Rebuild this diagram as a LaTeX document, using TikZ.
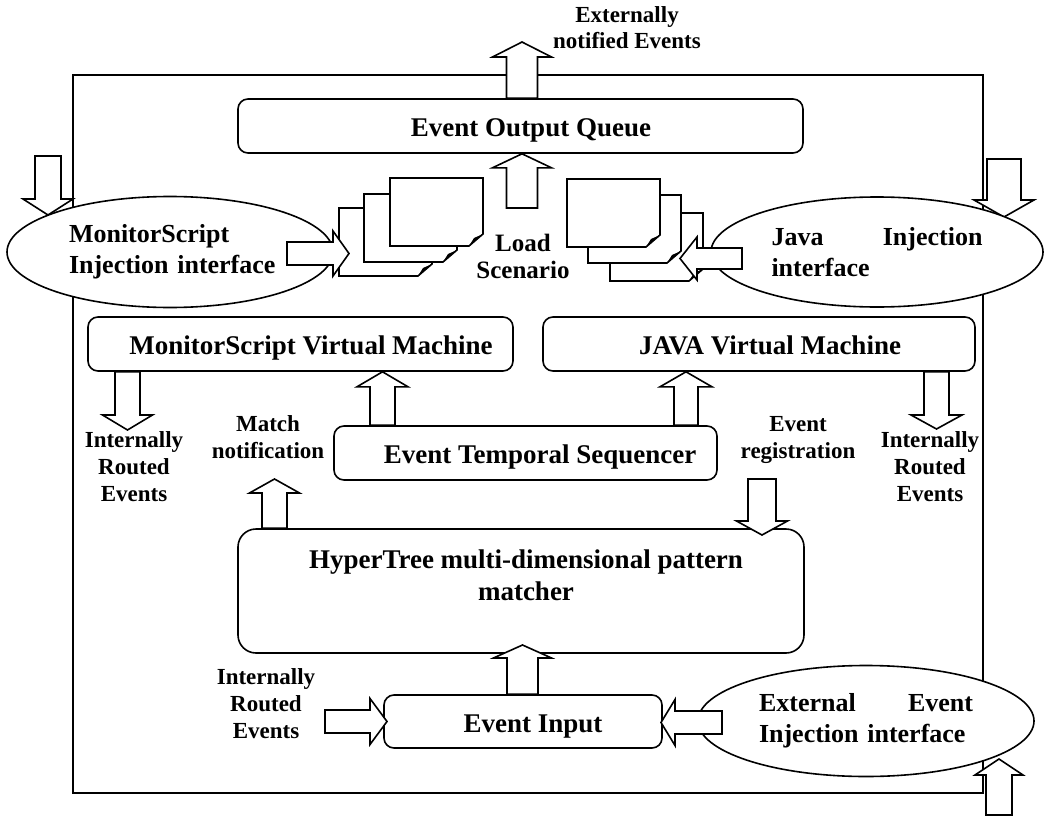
\documentclass[tikz,border=0pt]{standalone}
\usepackage{fontspec}
\setmainfont{Liberation Serif}
\usetikzlibrary{calc,shapes.geometric}

% block arrow: tail point, tip point, shaft half width, head half width, head length
\newcommand\blockarrow[5]{%
  \path ($(#2)!#5!(#1)$) coordinate (ba-h);
  \draw[blk] ($(#1)!#3!90:(#2)$) -- ($(ba-h)!#3!90:(#2)$) -- ($(ba-h)!#4!90:(#2)$)
    -- (#2) -- ($(ba-h)!#4!-90:(#2)$) -- ($(ba-h)!#3!-90:(#2)$) -- ($(#1)!#3!-90:(#2)$) -- cycle;}

% a sheet of paper with a curled bottom-right corner
\newcommand\docpage[2]{%
  \draw[page] (#1,#2) -- ++(93,0) -- ++(0,56) -- ++(-14,12) -- ++(-79,0) -- cycle;
  \fill ({#1+93},{#2+56}) -- ({#1+79},{#2+68}) -- ({#1+84},{#2+60}) -- cycle;}

\hyphenpenalty=10000
\hbadness=10000
\hfuzz=50pt
\begin{document}
\begin{tikzpicture}[x=1pt,y=-1pt,
  ln/.style={line width=1.6pt, draw=black},
  box/.style={ln, fill=white, rounded corners=10pt, inner sep=0pt},
  blob/.style={ln, fill=white, ellipse, inner sep=0pt},
  blk/.style={ln, fill=white, line join=miter},
  page/.style={ln, fill=white, line join=miter},
  big/.style={font=\bfseries\fontsize{27pt}{32pt}\selectfont, inner sep=0pt, anchor=base},
  mid/.style={font=\bfseries\fontsize{26pt}{31pt}\selectfont},
  small/.style={font=\bfseries\fontsize{23pt}{27pt}\selectfont, inner sep=0pt, align=center, anchor=base},
]
\useasboundingbox (0,0) rectangle (1055,816);

% outer system frame
\node[ln, minimum width=910pt, minimum height=718pt, inner sep=0pt] (frame) at (528,434) {};

% processing blocks
\node[box, minimum width=565pt, minimum height=54pt] (eoq) at (520.5,126) {};
\node[box, minimum width=425pt, minimum height=54pt] (msvm) at (300.5,344) {};
\node[box, minimum width=432pt, minimum height=54pt] (jvm) at (759,344) {};
\node[box, minimum width=383pt, minimum height=54pt] (ets) at (525.5,453) {};
\node[box, rounded corners=18pt, minimum width=566pt, minimum height=124pt] (ht) at (521,591) {};
\node[box, minimum width=278pt, minimum height=53pt] (ei) at (523,721.5) {};

% incoming arrows that pass behind the interfaces
\coordinate (tlin) at (48,156);   \coordinate (tltip) at (48,215);
\coordinate (trin) at (1004,159); \coordinate (trtip) at (1004,217);
\coordinate (brin) at (999,815);  \coordinate (brtip) at (999,759);
\blockarrow{tlin}{tltip}{13pt}{25pt}{16pt}
\blockarrow{trin}{trtip}{17pt}{30pt}{17pt}
\blockarrow{brin}{brtip}{13pt}{24pt}{16pt}

% injection interfaces
\node[blob, mid, minimum width=326pt, minimum height=111pt, text width=202pt, align=left]
  (msi) at (170,252) {MonitorScript\\Injection~interface};
\node[blob, mid, minimum width=332pt, minimum height=110pt, text width=211pt, align=left]
  (jii) at (877,252) {Java\hfill Injection\\interface};
\node[blob, mid, minimum width=336pt, minimum height=111pt, text width=214pt, align=left]
  (eei) at (866,721) {External\hfill Event\\Injection~interface};

% scenario documents
\docpage{339}{208}
\docpage{364}{194}
\docpage{390}{178}
\docpage{610}{213}
\docpage{588}{195}
\docpage{567}{179}

% data flow arrows
\coordinate (outtip) at (522,42);
\coordinate (loadin) at (522,208);
\coordinate (msin) at (287,253.5);  \coordinate (mstip) at (349,253.5);
\coordinate (jin) at (742,258.5);   \coordinate (jtip) at (680,258.5);
\coordinate (ms-out) at (127.5,430);
\coordinate (j-out) at (936.5,429);
\coordinate (matchtip) at (274.5,479);
\coordinate (regin) at (762,479);   \coordinate (regtip) at (762,535);
\coordinate (irin) at (325,721.5);  \coordinate (irtip) at (387,721.5);
\coordinate (exin) at (722,722.5);  \coordinate (extip) at (661,722.5);

\blockarrow{522,0 |- eoq.north}{outtip}{15.5pt}{29.5pt}{15pt}
\blockarrow{loadin}{522,0 |- eoq.south}{15.5pt}{29.5pt}{14pt}
\blockarrow{msin}{mstip}{11.5pt}{22.5pt}{16pt}
\blockarrow{jin}{jtip}{10.5pt}{21.5pt}{17pt}
\blockarrow{127.5,0 |- msvm.south}{ms-out}{12.5pt}{25pt}{15pt}
\blockarrow{382.5,0 |- ets.north}{382.5,0 |- msvm.south}{12.5pt}{25.5pt}{15pt}
\blockarrow{686,0 |- ets.north}{686,0 |- jvm.south}{12pt}{26pt}{15pt}
\blockarrow{936.5,0 |- jvm.south}{j-out}{12.5pt}{25.5pt}{14pt}
\blockarrow{274.5,0 |- ht.north}{matchtip}{12.5pt}{25pt}{14pt}
\blockarrow{regin}{regtip}{14pt}{25.5pt}{14pt}
\blockarrow{522.5,0 |- ei.north}{522.5,645}{15.5pt}{29pt}{13pt}
\blockarrow{irin}{irtip}{11.5pt}{23pt}{17pt}
\blockarrow{exin}{extip}{11.5pt}{23pt}{14pt}

% block titles (multi-line nodes are placed by the baseline of their last line)
\node[big] (eoq-t) at (531,136) {Event Output Queue};
\node[big] (msvm-t) at (311,354) {MonitorScript Virtual Machine};
\node[big] (jvm-t) at (770,354) {JAVA Virtual Machine};
\node[big] (ets-t) at (540,463) {Event Temporal Sequencer};
\node[big, align=center] (ht-t) at (526,600) {HyperTree multi-dimensional pattern\\matcher};
\node[big] (ei-t) at (533,732) {Event Input};

% flow labels
\node[small] (ext-t) at (627,49) {Externally\\notified Events};
\node[small, font=\bfseries\fontsize{25pt}{27pt}\selectfont] (load-t) at (523,278) {Load\\Scenario};
\node[small] (ire1) at (134,501) {Internally\\Routed\\Events};
\node[small] (ire2) at (930,501) {Internally\\Routed\\Events};
\node[small] (match) at (268,458) {Match\\notification};
\node[small] (reg) at (798,458) {Event\\registration};
\node[small] (ire3) at (266,738) {Internally\\Routed\\Events};
\end{tikzpicture}
\end{document}
